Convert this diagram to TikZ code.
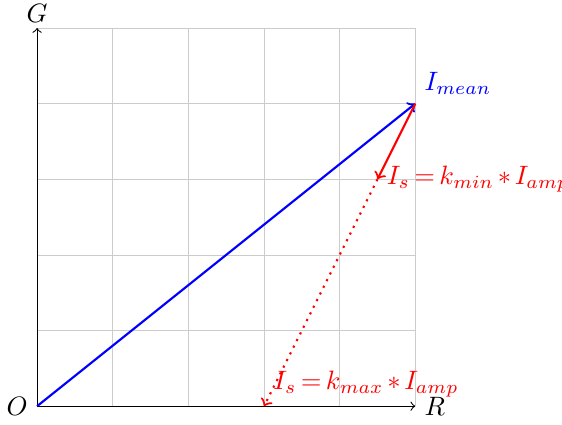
\documentclass[tikz,border=0pt]{standalone}
\newcommand{\tightmath}{\thickmuskip=3mu\relax\medmuskip=2.5mu\relax}
\begin{document}
\begin{tikzpicture}
\useasboundingbox (-0.49,-0.238) rectangle (6.94,5.37);
\tikzset{
  axis/.style={->, black},
  vec/.style={->, thick},
  lbl/.style={inner sep=3.33pt},
  eqlbl/.style={lbl, red, font=\tightmath}
}
\draw[help lines, gray!40] (0,0) grid (5,5);
\coordinate (O) at (0,0);
\coordinate (Rx) at (5,0);
\coordinate (Gy) at (0,5);
\coordinate (M) at (5,4);
\coordinate (A) at (4.5,3);
\coordinate (B) at (3,0);
\draw[axis] (O) -- (Rx);
\draw[axis] (O) -- (Gy);
\node[lbl, anchor=west] (Rl) at (Rx) {$R$};
\node[lbl, anchor=south, inner sep=2pt] (Gl) at (Gy) {$G$};
\node[lbl, anchor=east] (Ol) at (O) {$O$};
\draw[vec, blue] (O) -- (M);
\draw[vec, red] (M) -- (A);
\draw[vec, red, dotted] (A) -- (B);
\node[lbl, anchor=south west, blue] (Ml) at (M) {$I_{mean}$};
\node[eqlbl, anchor=west] (Al) at (A) {$I_s = k_{min} * I_{amp}$};
\node[eqlbl, anchor=south west] (Bl) at (B) {$I_s = k_{max} * I_{amp}$};
\end{tikzpicture}
\end{document}
